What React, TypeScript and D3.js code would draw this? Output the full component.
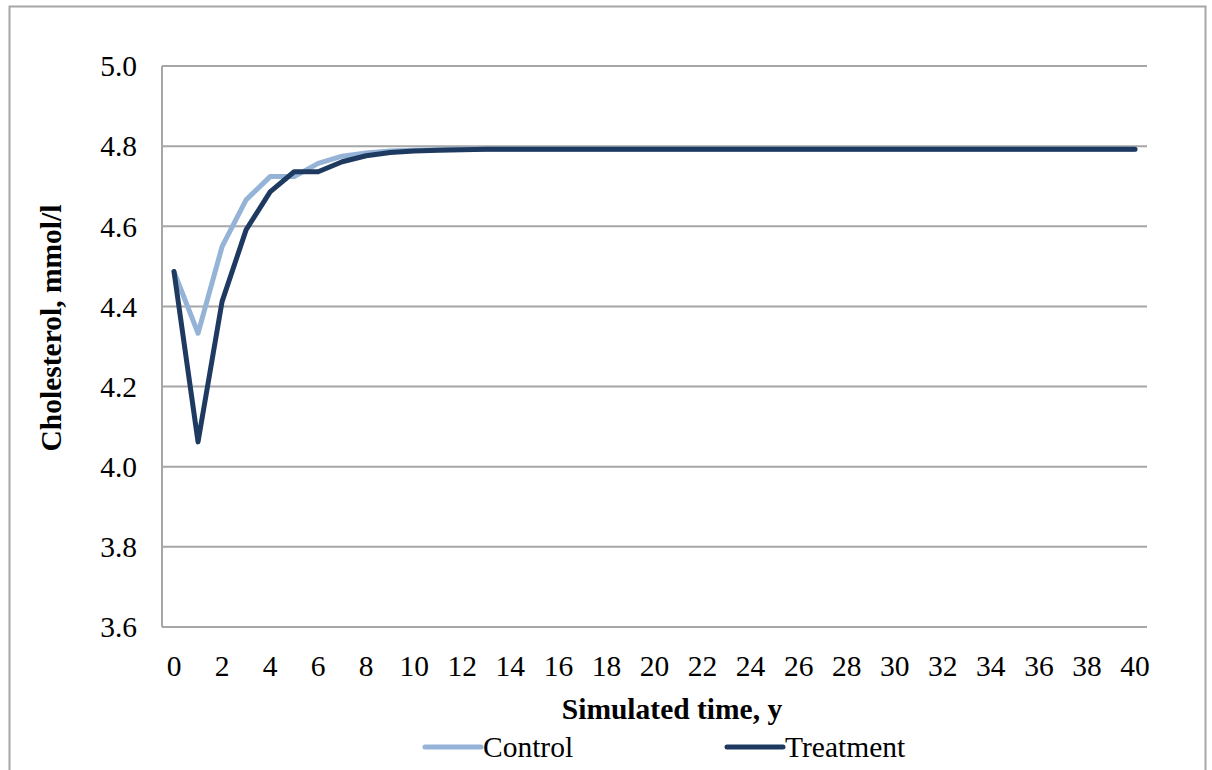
import React from "react";
import * as d3 from "d3";

const years: number[] = [
  0, 1, 2, 3, 4, 5, 6, 7, 8, 9, 10, 11, 12, 13, 14, 15, 16, 17, 18, 19, 20,
  21, 22, 23, 24, 25, 26, 27, 28, 29, 30, 31, 32, 33, 34, 35, 36, 37, 38, 39, 40,
];
const controlValues: number[] = [
  4.487, 4.333, 4.549, 4.666, 4.724, 4.724, 4.757, 4.775, 4.783, 4.788, 4.79,
  4.791, 4.792, 4.792, 4.792, 4.792, 4.792, 4.792, 4.792, 4.792, 4.792,
  4.792, 4.792, 4.792, 4.792, 4.792, 4.792, 4.792, 4.792, 4.792, 4.792,
  4.792, 4.792, 4.792, 4.792, 4.792, 4.792, 4.792, 4.792, 4.792, 4.792,
];
const treatmentValues: number[] = [
  4.487, 4.062, 4.412, 4.591, 4.686, 4.736, 4.736, 4.761, 4.776, 4.784, 4.788,
  4.79, 4.791, 4.792, 4.792, 4.792, 4.792, 4.792, 4.792, 4.792, 4.792,
  4.792, 4.792, 4.792, 4.792, 4.792, 4.792, 4.792, 4.792, 4.792, 4.792,
  4.792, 4.792, 4.792, 4.792, 4.792, 4.792, 4.792, 4.792, 4.792, 4.792,
];
const yTicks: number[] = [3.6, 3.8, 4.0, 4.2, 4.4, 4.6, 4.8, 5.0];
const xTickLabels: number[] = [
  0, 2, 4, 6, 8, 10, 12, 14, 16, 18, 20, 22, 24, 26, 28, 30, 32, 34, 36, 38, 40,
];
const seriesNames: string[] = ["Control", "Treatment"];
const seriesColors: string[] = ["#95B3D7", "#1F3A60"];

const W = 1212;
const H = 770;
const plot = { left: 162, top: 66, right: 1147, bottom: 627 };
const FONT = "'Liberation Serif', 'Times New Roman', serif";
const FS = 29.5;

export default function App() {
  const x = d3
    .scaleBand<number>()
    .domain(years)
    .range([plot.left, plot.right]);
  const xc = (v: number) => (x(v) as number) + x.bandwidth() / 2;
  const y = d3.scaleLinear().domain([3.6, 5.0]).range([plot.bottom, plot.top]);

  const line = d3
    .line<number>()
    .x((_, i) => xc(years[i]))
    .y((d) => y(d));

  const series = [controlValues, treatmentValues];
  const legendX = [425, 727];

  return (
    <svg
      width={W}
      height={H}
      style={{ position: "absolute", left: 0, top: 0, background: "#fff" }}
    >
      <rect x={0} y={0} width={W} height={H} fill="#fff" />
      <rect
        x={9.5}
        y={6.5}
        width={1196}
        height={800}
        fill="none"
        stroke="#A6A6A6"
        strokeWidth={2}
      />
      {yTicks.map((t) => (
        <g key={t}>
          <line
            x1={plot.left}
            x2={plot.right}
            y1={y(t)}
            y2={y(t)}
            stroke="#A6A6A6"
            strokeWidth={2}
          />
          <text
            x={plot.left - 25}
            y={y(t)}
            dy="0.35em"
            textAnchor="end"
            fontFamily={FONT}
            fontSize={FS}
            fill="#000"
          >
            {t.toFixed(1)}
          </text>
        </g>
      ))}
      <line
        x1={plot.left}
        x2={plot.left}
        y1={plot.top}
        y2={plot.bottom}
        stroke="#A6A6A6"
        strokeWidth={2}
      />
      {xTickLabels.map((t) => (
        <text
          key={t}
          x={xc(t)}
          y={676}
          textAnchor="middle"
          fontFamily={FONT}
          fontSize={FS}
          fill="#000"
        >
          {t}
        </text>
      ))}
      {series.map((s, i) => (
        <path
          key={i}
          d={line(s) as string}
          fill="none"
          stroke={seriesColors[i]}
          strokeWidth={5}
          strokeLinejoin="round"
          strokeLinecap="round"
        />
      ))}
      <text
        x={672}
        y={719}
        textAnchor="middle"
        fontFamily={FONT}
        fontSize={FS}
        fontWeight="bold"
        fill="#000"
      >
        Simulated time, y
      </text>
      <text
        transform={`translate(61, 328) rotate(-90)`}
        textAnchor="middle"
        fontFamily={FONT}
        fontSize={FS}
        fontWeight="bold"
        fill="#000"
      >
        Cholesterol, mmol/l
      </text>
      {seriesNames.map((n, i) => {
        const lx = legendX[i];
        return (
          <g key={n}>
            <line
              x1={lx}
              x2={lx + 56}
              y1={747}
              y2={747}
              stroke={seriesColors[i]}
              strokeWidth={5}
              strokeLinecap="round"
            />
            <text
              x={lx + 58}
              y={757}
              fontFamily={FONT}
              fontSize={FS}
              fill="#000"
            >
              {n}
            </text>
          </g>
        );
      })}
    </svg>
  );
}
